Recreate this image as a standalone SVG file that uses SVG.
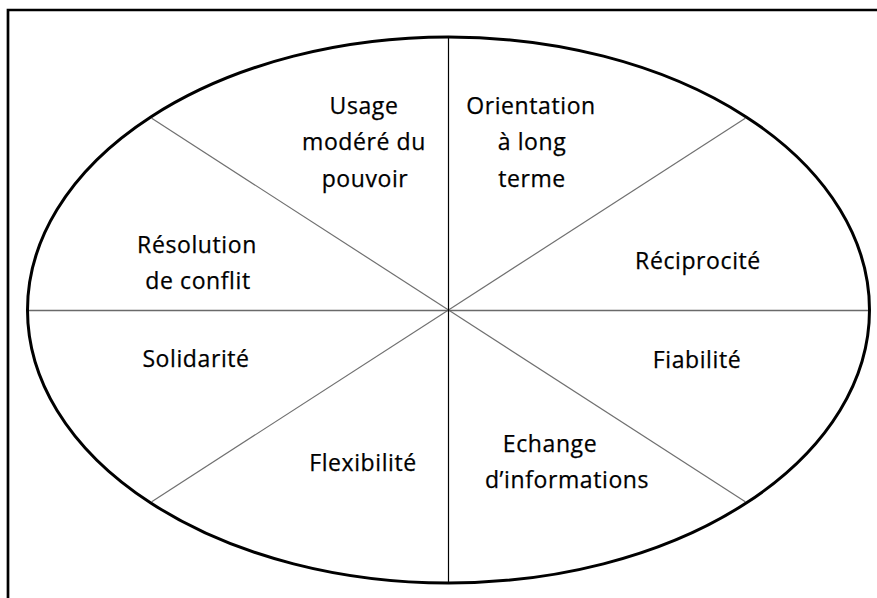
<svg xmlns="http://www.w3.org/2000/svg" width="877" height="598" viewBox="0 0 877 598">
<style>
  .lbl { font-family: "Open Sans", "Noto Sans", "Liberation Sans", sans-serif; font-size: 23px; letter-spacing: 0.6px; fill: #000; text-anchor: middle; stroke: #000; stroke-width: 0.25; }
  .div { stroke: #707070; stroke-width: 1.2; fill: none; }
</style>
<rect width="877" height="598" fill="#fff"/>
<path d="M8 598 V10 H877" fill="none" stroke="#000" stroke-width="2.7"/>
<g id="connectors">
  <line class="div" x1="151.7" y1="118.3" x2="448.5" y2="310"/>
  <line class="div" x1="448.5" y1="310" x2="745.3" y2="118.3"/>
  <line class="div" x1="151.7" y1="501.7" x2="448.5" y2="310"/>
  <line class="div" x1="448.5" y1="310" x2="745.3" y2="501.7"/>
  <line x1="27" y1="310.5" x2="870" y2="310.5" stroke="#6a6a6a" stroke-width="1.6"/>
  <line x1="448.5" y1="37" x2="448.5" y2="583" stroke="#000" stroke-width="1.2"/>
</g>
<g id="ellipse">
  <ellipse cx="448.5" cy="310" rx="421" ry="273" fill="none" stroke="#000" stroke-width="3"/>
</g>
<g id="usage">
  <text class="lbl" x="364" y="114">Usage</text>
  <text class="lbl" x="364" y="150">modéré du</text>
  <text class="lbl" x="365" y="187">pouvoir</text>
</g>
<g id="orientation">
  <text class="lbl" x="531" y="114">Orientation</text>
  <text class="lbl" x="532" y="150">à long</text>
  <text class="lbl" x="532" y="187">terme</text>
</g>
<g id="resolution">
  <text class="lbl" x="197" y="253">Résolution</text>
  <text class="lbl" x="198" y="289">de conflit</text>
</g>
<g id="reciprocite">
  <text class="lbl" x="698" y="269">Réciprocité</text>
</g>
<g id="solidarite">
  <text class="lbl" x="196" y="367">Solidarité</text>
</g>
<g id="fiabilite">
  <text class="lbl" x="697" y="368">Fiabilité</text>
</g>
<g id="flexibilite">
  <text class="lbl" x="363" y="471">Flexibilité</text>
</g>
<g id="echange">
  <text class="lbl" x="550" y="452">Echange</text>
  <text class="lbl" x="567" y="488">d’informations</text>
</g>
</svg>
